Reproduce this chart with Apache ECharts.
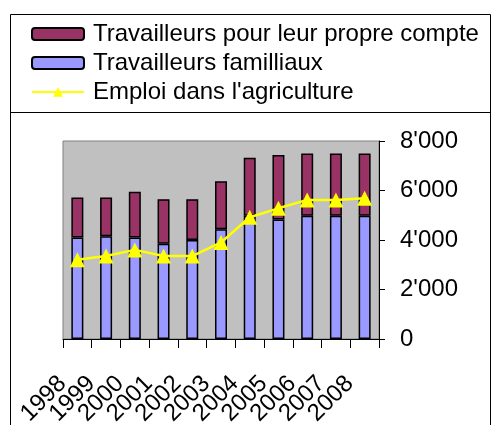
<!DOCTYPE html>
<html>
<head>
<meta charset="utf-8">
<script src="https://cdn.jsdelivr.net/npm/echarts@6/dist/echarts.min.js"></script>
<style>
  html, body { margin: 0; padding: 0; background: #fff; }
  #container { width: 493px; height: 425px; }
</style>
</head>
<body>
<div id="container"></div>
<script>
// 年份
const years = ['1998', '1999', '2000', '2001', '2002', '2003', '2004', '2005', '2006', '2007', '2008'];
// 系列名称
const nameSelf = 'Travailleurs pour leur propre compte';
const nameFamily = 'Travailleurs familliaux';
const nameAgri = "Emploi dans l'agriculture";
// 系列数据
const familyValues = [4100, 4150, 4100, 3850, 4000, 4430, 4980, 4830, 4980, 4980, 4980];
const selfValues = [1620, 1570, 1850, 1800, 1650, 1940, 2340, 2600, 2520, 2520, 2520];
const agriValues = [3200, 3350, 3600, 3350, 3350, 3900, 4920, 5280, 5620, 5620, 5690];
// y 轴刻度
const yMin = 0;
const yMax = 8000;
const yStep = 2000;

const font = 'Liberation Sans, Arial, sans-serif';

// 千位分隔符：8'000
function fmt(v) {
  return String(v).replace(/\B(?=(\d{3})+(?!\d))/g, "'");
}

const myChart = echarts.init(document.getElementById('container'));

const option = {
  animation: false,
  graphic: [
    {
      type: 'rect',
      shape: { x: 10.5, y: 14.5, width: 480, height: 430 },
      style: { fill: 'none', stroke: '#000', lineWidth: 1 },
      z: 0
    },
    {
      type: 'line',
      shape: { x1: 10.5, y1: 112.5, x2: 490.5, y2: 112.5 },
      style: { stroke: '#000', lineWidth: 1 },
      z: 0
    }
  ],
  legend: {
    orient: 'vertical',
    left: 31,
    top: 21,
    padding: 0,
    itemWidth: 52,
    itemHeight: 12,
    itemGap: 3,
    data: [nameSelf, nameFamily, nameAgri],
    textStyle: {
      fontFamily: font,
      fontSize: 24,
      lineHeight: 26,
      color: '#000',
      padding: [0, 0, 0, 4]
    }
  },
  grid: {
    left: 63,
    top: 141,
    right: 493 - 379,
    bottom: 425 - 339,
    outerBoundsMode: 'none',
    show: true,
    backgroundColor: '#c0c0c0',
    borderColor: '#808080',
    borderWidth: 1
  },
  xAxis: {
    type: 'category',
    data: years,
    boundaryGap: true,
    axisLine: { lineStyle: { color: '#000', width: 1 } },
    axisTick: { show: true, length: 9, interval: 0, lineStyle: { color: '#000' } },
    axisLabel: {
      interval: 0,
      rotate: 45,
      margin: 26,
      fontFamily: font,
      fontSize: 24,
      color: '#000',
      formatter: function (v) { return '{y|' + v + '}'; },
      rich: {
        y: {
          fontFamily: font,
          fontSize: 24,
          color: '#000',
          padding: [0, 21, 0, 0]
        }
      }
    },
    splitLine: { show: false }
  },
  yAxis: {
    type: 'value',
    position: 'right',
    min: yMin,
    max: yMax,
    interval: yStep,
    axisLine: { show: true, lineStyle: { color: '#000', width: 1 } },
    axisTick: { show: true, length: 6, lineStyle: { color: '#000' } },
    axisLabel: {
      margin: 21,
      fontFamily: font,
      fontSize: 24,
      color: '#000',
      formatter: fmt
    },
    splitLine: { show: false }
  },
  series: [
    {
      name: nameFamily,
      type: 'bar',
      stack: 'total',
      barWidth: 12,
      data: familyValues,
      itemStyle: { color: '#9999ff', borderColor: '#000', borderWidth: 1.5 }
    },
    {
      name: nameSelf,
      type: 'bar',
      stack: 'total',
      barWidth: 12,
      data: selfValues,
      itemStyle: { color: '#993366', borderColor: '#000', borderWidth: 1.5 }
    },
    {
      name: nameAgri,
      type: 'line',
      data: agriValues,
      symbol: 'triangle',
      symbolSize: 15,
      showSymbol: true,
      lineStyle: { color: '#ffff00', width: 2.5 },
      itemStyle: { color: '#ffff00', borderWidth: 0 },
      z: 5
    }
  ]
};

myChart.setOption(option);
</script>
</body>
</html>
